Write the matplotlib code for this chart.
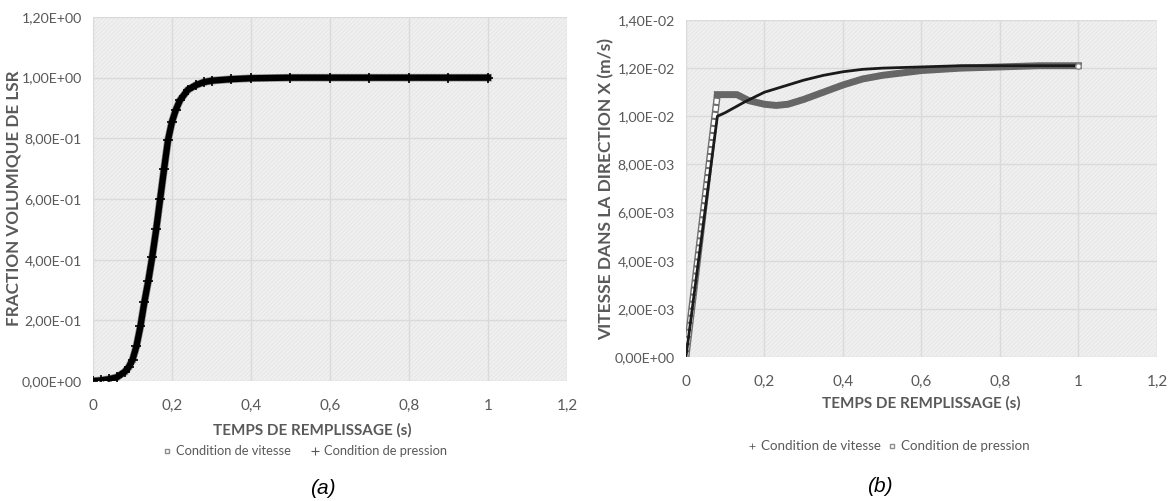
import numpy as np
import matplotlib
matplotlib.use('Agg')
import matplotlib.pyplot as plt
from matplotlib.ticker import FuncFormatter, FixedLocator

plt.rcParams['font.family'] = ['Lato', 'DejaVu Sans']

# (a) fraction volumique
t_a = [0, 0.02, 0.04, 0.06, 0.08, 0.09, 0.10, 0.11, 0.12, 0.13, 0.14, 0.15, 0.16,
       0.17, 0.18, 0.19, 0.20, 0.21, 0.22, 0.24, 0.26, 0.28, 0.30, 0.35, 0.40,
       0.50, 0.60, 0.70, 0.80, 0.90, 1.00]
frac_vitesse = [0, 0.002, 0.006, 0.012, 0.03, 0.045, 0.07, 0.115, 0.18, 0.26, 0.33,
                0.41, 0.5, 0.6, 0.7, 0.795, 0.855, 0.895, 0.925, 0.96, 0.975, 0.985,
                0.99, 0.995, 0.998, 1.0, 1.0, 1.0, 1.0, 1.0, 1.0]
frac_pression = list(frac_vitesse)

# (b) vitesse x
t_vit = [0, 0.08, 0.10, 0.15, 0.20, 0.25, 0.30, 0.35, 0.40, 0.45, 0.50, 0.60,
         0.70, 0.80, 0.90, 1.00]
vit_vitesse = [0, 1.00e-2, 1.015e-2, 1.06e-2, 1.10e-2, 1.125e-2, 1.15e-2, 1.17e-2,
               1.185e-2, 1.195e-2, 1.20e-2, 1.205e-2, 1.21e-2, 1.21e-2, 1.21e-2, 1.21e-2]
t_pre = [0, 0.08, 0.10, 0.13, 0.16, 0.20, 0.23, 0.26, 0.30, 0.35, 0.40, 0.45,
         0.50, 0.60, 0.70, 0.80, 0.90, 1.00]
vit_pression = [0, 1.09e-2, 1.09e-2, 1.09e-2, 1.065e-2, 1.05e-2, 1.045e-2, 1.05e-2,
                1.07e-2, 1.10e-2, 1.13e-2, 1.155e-2, 1.17e-2, 1.19e-2, 1.20e-2,
                1.205e-2, 1.21e-2, 1.21e-2]

x_ticks = [0, 0.2, 0.4, 0.6, 0.8, 1.0, 1.2]
x_labels = ['0', '0,2', '0,4', '0,6', '0,8', '1', '1,2']

txt = '#595959'


def sci_fr(v, pos):
    s = '%.2E' % v
    return s.replace('.', ',')


def style(ax, yticks):
    ax.set_facecolor('#f1f1f1')
    ax.patch.set_hatch('////////')
    ax.patch.set_edgecolor('#e8e8e8')
    for s in ax.spines.values():
        s.set_visible(False)
    ax.set_xlim(0, 1.2)
    ax.set_ylim(yticks[0], yticks[-1])
    ax.xaxis.set_major_locator(FixedLocator(x_ticks))
    ax.set_xticklabels(x_labels)
    ax.yaxis.set_major_locator(FixedLocator(yticks))
    ax.yaxis.set_major_formatter(FuncFormatter(sci_fr))
    ax.grid(True, color='#dadada', lw=1)
    ax.set_axisbelow(True)
    ax.tick_params(length=0, colors=txt)
    ax.tick_params(axis='x', pad=13, labelsize=11)
    ax.tick_params(axis='y', pad=8, labelsize=10.2)


fig = plt.figure(figsize=(11.76, 5.01), dpi=100)

# ---- (a)
ax1 = fig.add_axes([0.0791, 0.2395, 0.403, 0.7266])
style(ax1, [0, 0.2, 0.4, 0.6, 0.8, 1.0, 1.2])
ax1.plot(t_a, frac_vitesse, color='#8c8c8c', lw=5.5, marker='s', ms=3,
         mfc='white', mec='#8c8c8c', label='Condition de vitesse')
ax1.plot(t_a, frac_pression, color='black', lw=4.5, marker='+', ms=7, mew=1.2,
         label='Condition de pression')
ax1.set_xlabel('TEMPS DE REMPLISSAGE (s)', fontsize=11, fontweight='bold', color=txt)
ax1.set_ylabel('FRACTION VOLUMIQUE DE LSR', fontsize=12.3, fontweight='bold', color=txt)
ax1.xaxis.set_label_coords(0.462, -0.135)
ax1.xaxis.label.set_va('center')
ax1.yaxis.set_label_coords(-0.168, 0.503)
ax1.yaxis.label.set_va('center')
h1 = [plt.Line2D([], [], ls='none', marker='s', ms=3, mfc='white', mec='#8c8c8c'),
      plt.Line2D([], [], ls='none', marker='+', ms=6, color=txt, mew=0.8)]
ax1.legend(h1, ['Condition de vitesse', 'Condition de pression'], loc='center',
           bbox_to_anchor=(0.447, -0.193), ncol=2, frameon=False, fontsize=9.3,
           labelcolor=txt, handlelength=0.6, handletextpad=0.4, columnspacing=1.6)

# ---- (b)
ax2 = fig.add_axes([0.5833, 0.2874, 0.4005, 0.6727])
style(ax2, [0, 0.002, 0.004, 0.006, 0.008, 0.010, 0.012, 0.014])
ax2.plot(t_vit, vit_vitesse, color='#1a1a1a', lw=2, zorder=4)
# pression: rising part drawn as a ladder of hollow squares, rest thick grey
ax2.plot(t_pre[:2], vit_pression[:2], color='#6e6e6e', lw=5, zorder=3,
         solid_capstyle='butt')
ax2.plot(t_pre[:2], vit_pression[:2], color='white', lw=3, zorder=3,
         dashes=(1.2, 0.5), solid_capstyle='butt')
ax2.plot(t_pre[1:], vit_pression[1:], color='#666666', lw=5, zorder=3)
ax2.plot(t_pre[-1:], vit_pression[-1:], ls='none', marker='o', ms=4, mfc='white',
         mec='#888888', zorder=5)
ax2.set_xlabel('TEMPS DE REMPLISSAGE (s)', fontsize=11, fontweight='bold', color=txt)
ax2.set_ylabel('VITESSE DANS LA DIRECTION X (m/s)', fontsize=12.5, fontweight='bold', color=txt)
ax2.xaxis.set_label_coords(0.5, -0.137)
ax2.xaxis.label.set_va('center')
ax2.yaxis.set_label_coords(-0.17, 0.5)
ax2.yaxis.label.set_va('center')
h2 = [plt.Line2D([], [], ls='none', marker='+', ms=4, color=txt, mew=0.6),
      plt.Line2D([], [], ls='none', marker='s', ms=3.5, mfc='white', mec='#8c8c8c')]
ax2.legend(h2, ['Condition de vitesse', 'Condition de pression'], loc='center',
           bbox_to_anchor=(0.431, -0.265), ncol=2, frameon=False, fontsize=9.6,
           labelcolor=txt, handlelength=0.6, handletextpad=0.4, columnspacing=0.5)

fig.text(323 / 1176, 1 - 488 / 501, '(a)', fontsize=15, style='italic',
         family='Liberation Sans', ha='center', va='center')
fig.text(880 / 1176, 1 - 486 / 501, '(b)', fontsize=15, style='italic',
         family='Liberation Sans', ha='center', va='center')

fig.savefig('out.png', dpi=100)
